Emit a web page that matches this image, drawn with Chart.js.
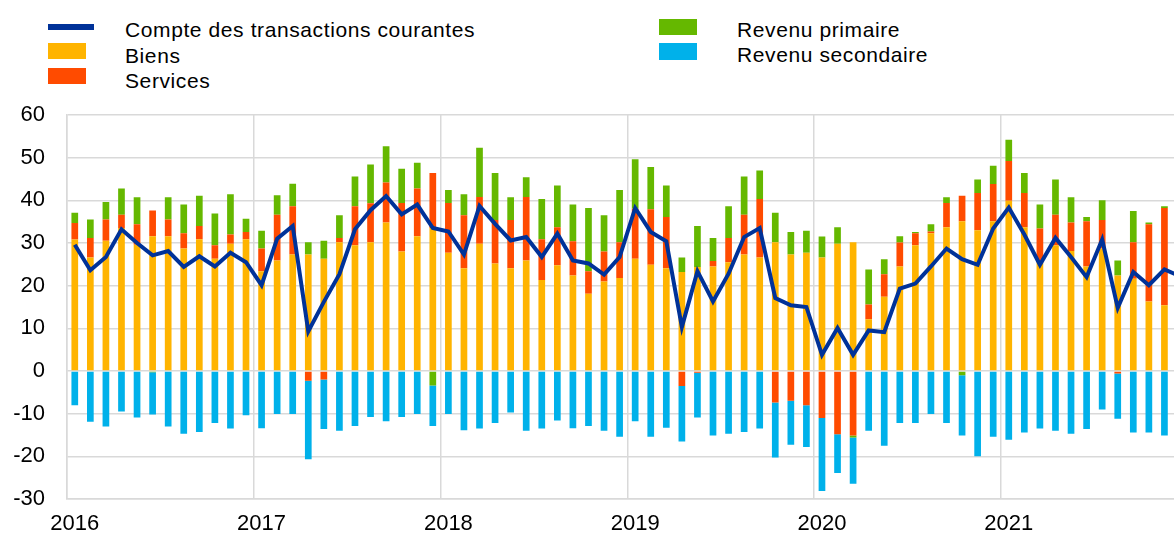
<!DOCTYPE html>
<html lang="fr">
<head>
<meta charset="utf-8">
<script src="https://cdn.jsdelivr.net/npm/chart.js@4.4.1/dist/chart.umd.min.js"></script>
<style>
  html, body { margin: 0; padding: 0; background: #fff; overflow: hidden; }
  body { width: 1174px; height: 537px; position: relative; font-family: 'Liberation Sans', Arial, sans-serif; color: #000; }
  #wrap { position: absolute; left: 0; top: 0; width: 1192px; height: 537px; }
  .sw { position: absolute; }
  .txt { position: absolute; font-size: 21px; letter-spacing: 0.6px; line-height: 25.5px; white-space: nowrap; }
</style>
</head>
<body>
<div id="legend"></div>
<div id="wrap"><canvas id="caChart"></canvas></div>
<script>
// monthly, Jan 2016 - Dec 2021 (Dec 2021 falls outside the cropped frame)
const years = ['2016', '2017', '2018', '2019', '2020', '2021'];
const monthNums = ['01','02','03','04','05','06','07','08','09','10','11','12'];
const months = years.flatMap(y => monthNums.map(m => y + '-' + m));

const compte = [
  29.6, 23.6, 26.7, 33.2, 30.0, 27.1, 28.1, 24.4, 26.9, 24.5, 27.7, 25.5,
  20.1, 31.0, 34.0, 9.3, 16.2, 22.7, 33.2, 37.7, 41.0, 36.7, 39.0, 33.5,
  32.7, 27.3, 38.7, 34.5, 30.6, 31.4, 26.7, 32.2, 25.9, 25.2, 22.6, 26.7,
  38.2, 32.6, 30.4, 10.3, 23.4, 16.3, 22.8, 31.4, 33.5, 17.1, 15.4, 15.0,
  3.8, 10.1, 3.8, 9.5, 9.1, 19.3, 20.5, 24.5, 28.7, 26.2, 24.9, 33.4,
  38.3, 32.0, 24.9, 31.2, 26.7, 22.0, 30.8, 14.8, 23.2, 20.1, 23.8, 22.2
];
const biens = [
  30.8, 26.6, 30.5, 33.5, 29.6, 31.6, 31.6, 28.7, 30.9, 26.3, 29.8, 30.9,
  23.4, 25.9, 27.3, 27.3, 26.3, 30.2, 29.5, 30.2, 34.8, 28.0, 31.6, 33.5,
  27.7, 24.1, 29.8, 25.2, 24.1, 25.9, 21.3, 24.8, 22.4, 18.1, 21.0, 21.8,
  26.3, 24.9, 24.1, 23.2, 24.4, 24.5, 25.5, 27.3, 26.6, 30.2, 27.3, 27.7,
  26.6, 29.8, 30.2, 12.1, 17.4, 24.5, 29.5, 32.3, 33.7, 35.1, 33.0, 35.1,
  39.9, 33.7, 25.5, 29.5, 28.1, 24.5, 28.7, 22.4, 21.6, 16.3, 15.4, 15.0
];
const services = [
  3.9, 4.6, 5.0, 3.1, 4.8, 6.0, 3.9, 3.6, 3.1, 3.2, 2.2, 1.7,
  5.3, 10.7, 11.3, -2.3, -2.0, 1.0, 9.1, 9.1, 9.4, 11.4, 11.2, 12.9,
  11.7, 12.4, 11.0, 10.2, 11.3, 14.9, 9.6, 8.9, 8.0, 5.3, 7.0, 8.4,
  11.7, 13.0, 12.0, -3.5, -0.4, 1.3, 5.7, 9.3, 13.7, -7.4, -7.0, -8.0,
  -11.0, -14.8, -15.1, 3.5, 5.3, 5.6, 2.8, 0.4, 5.7, 6.0, 8.7, 8.7,
  9.3, 8.0, 7.9, 7.1, 6.7, 10.6, 6.7, -0.6, 8.6, 18.1, 22.8, 21.0
];
const primaire = [
  2.4, 4.3, 4.1, 6.2, 6.3, -0.3, 5.2, 6.7, 7.1, 7.4, 9.4, 3.1,
  4.2, 4.6, 5.3, 2.9, 4.2, 5.3, 7.0, 9.1, 8.5, 8.0, 6.0, -3.4,
  3.0, 4.9, 11.5, 11.0, 5.3, 4.6, 9.4, 9.8, 8.6, 14.8, 8.5, 12.2,
  11.6, 9.9, 7.4, 3.4, 9.6, 5.4, 7.4, 9.0, 6.7, 6.9, 5.3, 5.2,
  4.9, 3.9, -0.5, 8.2, 3.5, 1.5, 0.3, 1.7, 1.3, -1.0, 3.2, 4.3,
  5.0, 4.7, 5.6, 8.3, 5.9, 1.0, 4.6, 3.5, 7.3, 0.4, 0.4, 1.0
];
const secondaire = [
  -8.0, -11.9, -13.0, -9.5, -10.9, -9.9, -13.0, -14.7, -14.3, -12.2, -13.5, -10.4,
  -13.4, -10.1, -10.1, -18.4, -11.6, -14.0, -12.9, -10.8, -11.8, -10.8, -10.1, -9.5,
  -10.1, -13.9, -13.5, -12.2, -9.7, -14.0, -13.5, -11.6, -13.4, -12.9, -14.0, -15.4,
  -11.8, -15.4, -13.3, -13.0, -10.5, -15.1, -14.7, -14.3, -13.5, -12.9, -10.3, -9.8,
  -17.1, -9.1, -10.8, -14.0, -17.5, -12.2, -12.2, -10.1, -12.2, -14.1, -20.0, -15.4,
  -16.1, -14.4, -13.5, -14.0, -14.7, -13.6, -9.0, -10.6, -14.4, -14.4, -15.1, -14.8
];

const colours = {
  compte: '#003299',
  biens: '#ffb400',
  services: '#ff4b00',
  primaire: '#65b800',
  secondaire: '#00b1ea'
};
const gridGrey = '#d9d9d9';

// legend laid out in two columns like the original
const legendItems = [
  { label: 'Compte des transactions courantes', colour: colours.compte, sw: [48, 23.5, 46, 6.7], text: [125, 16.7] },
  { label: 'Biens', colour: colours.biens, sw: [48, 43.3, 38, 16], text: [125, 42.5] },
  { label: 'Services', colour: colours.services, sw: [48, 68.3, 38, 15.7], text: [125, 68.3] },
  { label: 'Revenu primaire', colour: colours.primaire, sw: [659, 19.3, 38, 15.7], text: [737, 16.7] },
  { label: 'Revenu secondaire', colour: colours.secondaire, sw: [659, 43.3, 38, 16.7], text: [737, 42] }
];
const legendEl = document.getElementById('legend');
legendItems.forEach(it => {
  const sw = document.createElement('div');
  sw.className = 'sw';
  sw.style.cssText = `left:${it.sw[0]}px;top:${it.sw[1]}px;width:${it.sw[2]}px;height:${it.sw[3]}px;background:${it.colour}`;
  const tx = document.createElement('div');
  tx.className = 'txt';
  tx.style.left = it.text[0] + 'px';
  tx.style.top = it.text[1] + 'px';
  tx.textContent = it.label;
  legendEl.appendChild(sw);
  legendEl.appendChild(tx);
});

Chart.defaults.font.family = "'Liberation Sans', Arial, sans-serif";
Chart.defaults.color = '#000';

const ctx = document.getElementById('caChart').getContext('2d');
new Chart(ctx, {
  type: 'bar',
  data: {
    labels: months,
    datasets: [
      { type: 'line', label: 'Compte des transactions courantes', data: compte, stack: 'ca',
        borderColor: colours.compte, borderWidth: 4, pointRadius: 0, tension: 0, fill: false },
      { label: 'Biens', data: biens, stack: 'bop', backgroundColor: colours.biens },
      { label: 'Services', data: services, stack: 'bop', backgroundColor: colours.services },
      { label: 'Revenu primaire', data: primaire, stack: 'bop', backgroundColor: colours.primaire },
      { label: 'Revenu secondaire', data: secondaire, stack: 'bop', backgroundColor: colours.secondaire }
    ]
  },
  options: {
    responsive: true, maintainAspectRatio: false, animation: false,
    layout: { padding: { top: 115, left: 0, right: 0, bottom: 0 } },
    datasets: { bar: { categoryPercentage: 1, barPercentage: 0.43 } },
    scales: {
      x: {
        stacked: true, offset: true,
        grid: {
          offset: true, drawTicks: false, lineWidth: 1.5,
          color: c => (c.index % 12 === 0 ? gridGrey : 'rgba(0,0,0,0)')
        },
        border: { color: gridGrey, width: 1.5 },
        ticks: {
          autoSkip: false, maxRotation: 0, padding: 12, font: { size: 22 },
          callback: function (v) {
            const lab = this.getLabelForValue(v);
            return lab.endsWith('-01') ? lab.slice(0, 4) : '';
          }
        },
        afterFit: s => { s.height = 38; }
      },
      y: {
        stacked: true, min: -30, max: 60,
        grid: { color: gridGrey, lineWidth: 1.5, drawTicks: false },
        border: { color: gridGrey, width: 1.5 },
        ticks: { stepSize: 10, padding: 22, font: { size: 22 } },
        afterFit: s => { s.width = 67; }
      }
    },
    plugins: { legend: { display: false }, tooltip: { enabled: false } }
  }
});
</script>
</body>
</html>
